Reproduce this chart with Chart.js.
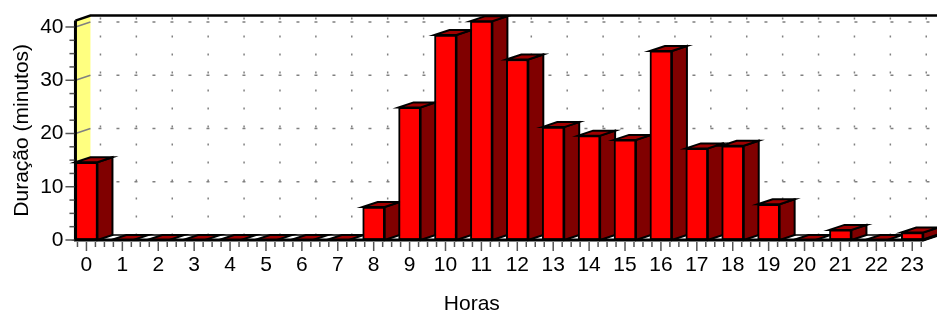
<!DOCTYPE html>
<html>
<head>
<meta charset="utf-8">
<script src="https://cdn.jsdelivr.net/npm/chart.js@4.4.1/dist/chart.umd.min.js"></script>
<style>
  body { margin: 0; background: #fff; }
</style>
</head>
<body>
<canvas id="myChart" width="937" height="315"></canvas>
<script>
// Datos del gráfico
const horas = ['0', '1', '2', '3', '4', '5', '6', '7', '8', '9', '10', '11',
               '12', '13', '14', '15', '16', '17', '18', '19', '20', '21', '22', '23'];
const duracao = [14.6, 0, 0, 0, 0, 0, 0, 0, 6.2, 24.9, 38.5, 41.1,
                 33.9, 21.2, 19.6, 18.8, 35.5, 17.2, 17.7, 6.7, 0, 1.9, 0, 1.4];
const yTicks = [0, 10, 20, 30, 40];
const yMax = 41.2;

// profundidad del efecto 3D
const DX = 15, DY = 5;

Chart.defaults.font.family = "'Liberation Sans', Arial, sans-serif";
Chart.defaults.color = '#000';

function poly(ctx, pts, fill, stroke, lw) {
    ctx.beginPath();
    ctx.moveTo(pts[0][0], pts[0][1]);
    for (let i = 1; i < pts.length; i++) ctx.lineTo(pts[i][0], pts[i][1]);
    ctx.closePath();
    if (fill) { ctx.fillStyle = fill; ctx.fill(); }
    if (stroke) { ctx.strokeStyle = stroke; ctx.lineWidth = lw || 1; ctx.stroke(); }
}

// paredes, rejilla y caras laterales de las barras
const chart3d = {
    id: 'chart3d',
    beforeDatasetsDraw(chart) {
        const ctx = chart.ctx;
        const y = chart.scales.y, x = chart.scales.x;
        const bars = chart.getDatasetMeta(0).data;
        const wallX = bars[0].x - bars[0].width / 2;
        const last = bars[bars.length - 1];
        const R = last.x + last.width / 2;
        const top = y.getPixelForValue(yMax), base = y.getPixelForValue(0);

        ctx.save();
        // pared izquierda
        poly(ctx, [[wallX, top], [wallX + DX, top - DY], [wallX + DX, base - DY], [wallX, base]], '#ffff80');

        // rejilla de la pared del fondo
        ctx.strokeStyle = '#808080';
        ctx.lineWidth = 1.5;
        ctx.setLineDash([2, 16]);
        for (let i = 0; i < horas.length; i++) {
            const px = x.getPixelForValue(i) + DX - 1;
            ctx.beginPath();
            ctx.moveTo(px, top - DY + 2);
            ctx.lineTo(px, base - DY);
            ctx.stroke();
        }
        ctx.setLineDash([3, 15]);
        for (const v of yTicks) {
            if (v === 0) continue;
            const py = y.getPixelForValue(v) - DY;
            ctx.beginPath();
            ctx.lineDashOffset = -8;
            ctx.moveTo(wallX + DX, py);
            ctx.lineTo(chart.width, py);
            ctx.stroke();
        }
        ctx.setLineDash([]);
        ctx.lineDashOffset = 0;
        for (const v of yTicks) {
            if (v === 0) continue;
            const py = y.getPixelForValue(v);
            ctx.beginPath();
            ctx.moveTo(wallX, py);
            ctx.lineTo(wallX + DX, py - DY);
            ctx.stroke();
        }

        // borde superior
        ctx.strokeStyle = '#000';
        ctx.lineWidth = 2.5;
        ctx.beginPath();
        ctx.moveTo(wallX, top);
        ctx.lineTo(wallX + DX, top - DY);
        ctx.lineTo(chart.width, top - DY);
        ctx.stroke();

        // piso
        poly(ctx, [[wallX, base], [wallX + DX, base - DY], [R + DX, base - DY], [R, base]], '#fff', '#000', 1.5);

        // caras laterales y superiores
        bars.forEach((b) => {
            const x0 = b.x - b.width / 2, x1 = b.x + b.width / 2;
            if (b.base - b.y > 0.5) {
                poly(ctx, [[x1, b.y], [x1 + DX, b.y - DY], [x1 + DX, b.base - DY], [x1, b.base]], '#800000', '#000', 2);
            }
            poly(ctx, [[x0, b.y], [x0 + DX, b.y - DY], [x1 + DX, b.y - DY], [x1, b.y]], '#a00000', '#000', 2);
        });
        ctx.restore();
    },
    afterDatasetsDraw(chart) {
        const ctx = chart.ctx;
        const y = chart.scales.y, x = chart.scales.x;
        const bars = chart.getDatasetMeta(0).data;
        const wallX = bars[0].x - bars[0].width / 2;
        const last = bars[bars.length - 1];
        const R = last.x + last.width / 2;
        const top = y.getPixelForValue(yMax), base = y.getPixelForValue(0);

        ctx.save();
        ctx.strokeStyle = '#000';
        ctx.lineWidth = 3;
        ctx.beginPath();
        ctx.moveTo(wallX, top);
        ctx.lineTo(wallX, base);
        ctx.lineTo(R, base);
        ctx.lineTo(R + DX, base - DY);
        ctx.stroke();

        // marcas del eje Y
        ctx.strokeStyle = '#555';
        ctx.lineWidth = 1.5;
        for (let v = 0; v <= 40; v += 2.5) {
            const py = y.getPixelForValue(v);
            const len = (v % 10 === 0) ? 10 : 6;
            ctx.beginPath();
            ctx.moveTo(wallX - len, py);
            ctx.lineTo(wallX - 1, py);
            ctx.stroke();
        }
        // marcas del eje X
        const step = x.getPixelForValue(1) - x.getPixelForValue(0);
        const c0 = x.getPixelForValue(0);
        for (let j = -1; j <= (horas.length - 1) * 4 + 1; j++) {
            const px = c0 + j * step / 4;
            const len = (j % 4 === 0) ? 10 : 6;
            ctx.beginPath();
            ctx.moveTo(px, base + 2);
            ctx.lineTo(px, base + 1 + len);
            ctx.stroke();
        }
        ctx.restore();
    }
};

const config = {
    type: 'bar',
    data: {
        labels: horas,
        datasets: [{
            label: 'Duração',
            data: duracao,
            backgroundColor: '#ff0000',
            borderColor: '#000',
            borderWidth: 2,
            borderSkipped: false,
            barThickness: 22
        }]
    },
    options: {
        responsive: false,
        animation: false,
        layout: { padding: { left: 10, top: 20.6, right: 3.3, bottom: 0 } },
        plugins: {
            legend: { display: false },
            tooltip: { enabled: false },
            title: {
                display: true,
                text: 'Horas',
                position: 'bottom',
                font: { size: 21, weight: 'normal', lineHeight: 1 },
                padding: 0
            }
        },
        scales: {
            x: {
                grid: { display: false, drawTicks: false },
                border: { display: false },
                ticks: { font: { size: 21 }, padding: 13, maxRotation: 0, autoSkip: false },
                afterFit(s) { s.height = 54; }
            },
            y: {
                min: 0,
                max: yMax,
                grid: { display: false, drawTicks: false },
                border: { display: false },
                ticks: { stepSize: 10, includeBounds: false, font: { size: 21 }, padding: 5 },
                title: { display: true, text: 'Duração (minutos)', font: { size: 21 }, padding: 0 },
                afterFit(s) { s.width = 58.5; }
            }
        }
    },
    plugins: [chart3d]
};

// Crear el gráfico
var myChart = new Chart(document.getElementById('myChart'), config);
</script>
</body>
</html>
